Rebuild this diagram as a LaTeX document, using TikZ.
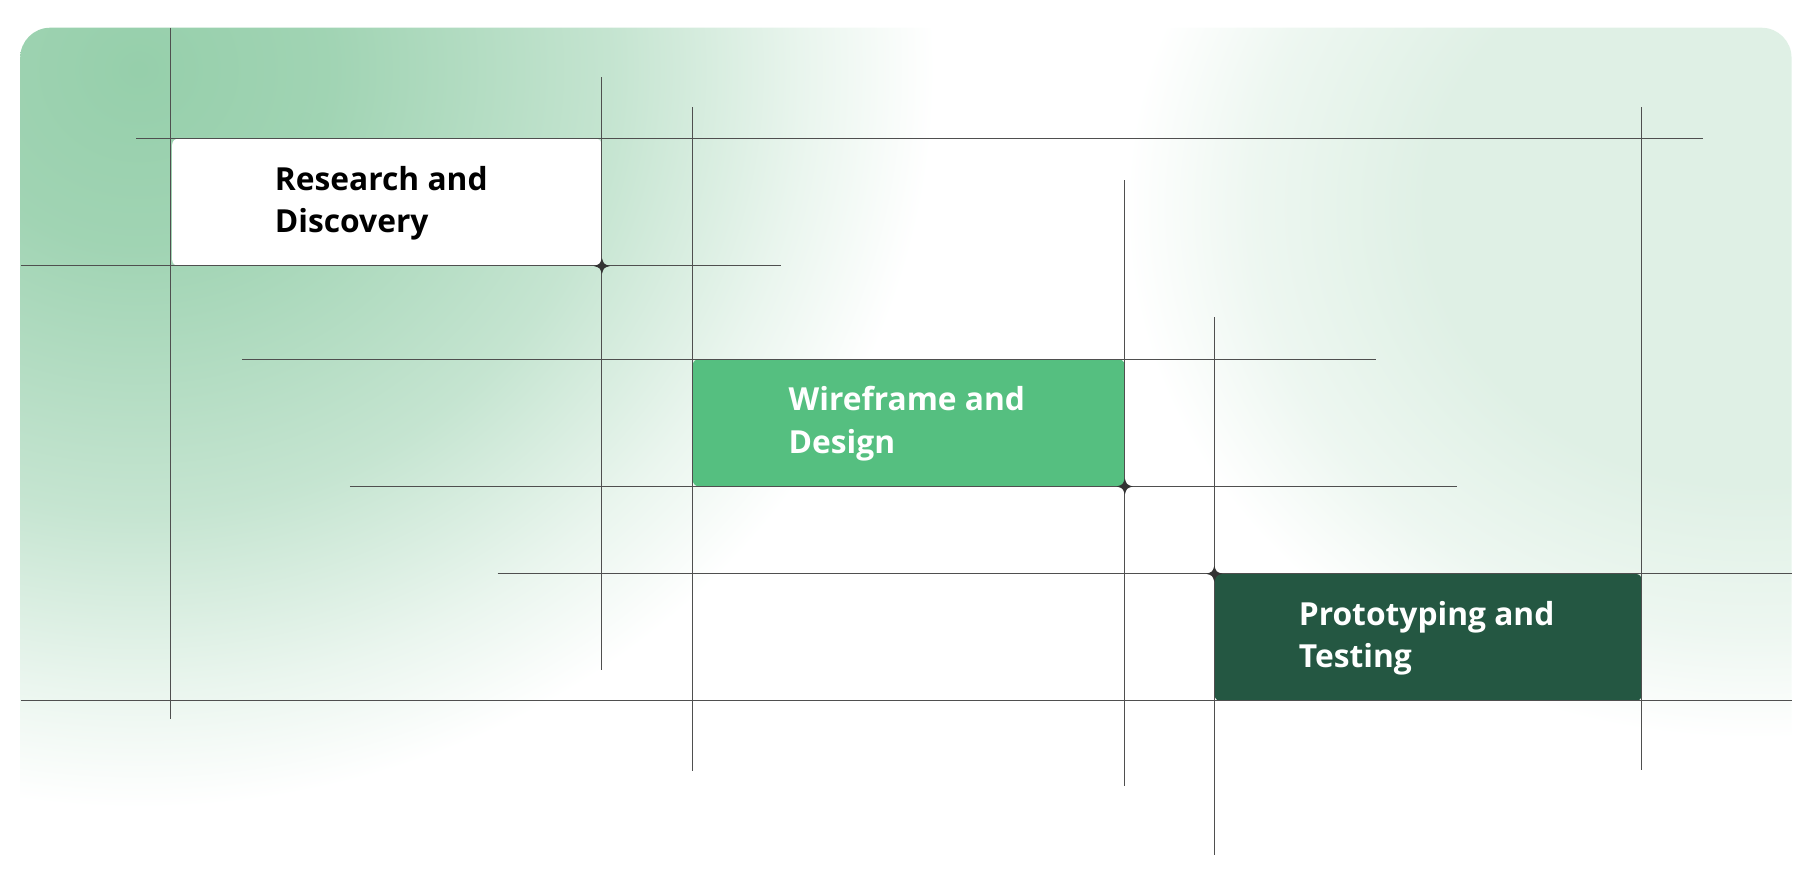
\documentclass[tikz,border=0pt]{standalone}
\usepackage{fontspec}
\newfontfamily\labelfont{Open Sans}
\definecolor{glowA}{HTML}{96CFAB}
\definecolor{glowB}{HTML}{DFF0E5}
\definecolor{midgreen}{HTML}{55BF80}
\definecolor{darkgreen}{HTML}{245742}
\definecolor{gridc}{HTML}{4F4F4F}
\definecolor{starc}{HTML}{333333}
\pgfdeclareradialshading{glowshadeA}{\pgfpointorigin}{color(0bp)=(glowA); color(6bp)=(glowA!90!white); color(15bp)=(glowA!55!white); color(21bp)=(glowA!20!white); color(25bp)=(white); color(50bp)=(white)}
\pgfdeclareradialshading{glowshadeB}{\pgfpointorigin}{color(0bp)=(glowB); color(13bp)=(glowB); color(20bp)=(glowB!55!white); color(25bp)=(white); color(50bp)=(white)}
\tikzset{
  gridline/.style={draw=gridc, line width=0.6pt},
  stagebox/.style={rectangle, rounded corners=5pt, minimum width=372pt, minimum height=110pt, anchor=north west, inner sep=0pt},
  stagetext/.style={anchor=west, align=left, inner sep=0pt, font=\labelfont\bfseries\fontsize{27.5}{37}\selectfont},
  sparkle/.pic={\fill[starc] (0,-7) .. controls (1.6,-1.6) .. (7,0) .. controls (1.6,1.6) .. (0,7) .. controls (-1.6,1.6) .. (-7,0) .. controls (-1.6,-1.6) .. cycle;}
}
\begin{document}
\begin{tikzpicture}[x=1pt,y=-1pt]
\useasboundingbox (0,0) rectangle (1568,761.5);
% background panel with glows
\begin{scope}
  \clip[rounded corners=26pt] (17.5,24) rectangle (1552,745);
  \shade[shading=glowshadeB] (1520,180) ellipse (545 and 460);
  \shade[shading=glowshadeA] (120,60) ellipse (690 and 640);
\end{scope}
% boxes
\node[stagebox, fill=white] (rd) at (149,120) {};
\node[stagebox, fill=midgreen, minimum width=374pt] (wd) at (600,311) {};
\node[stagebox, fill=darkgreen, minimum width=370pt] (pt) at (1052,497) {};
% grid lines
\draw[gridline] (118,120) -- (1475,120);
\draw[gridline] (18,230) -- (677,230);
\draw[gridline] (210,311) -- (1192,311);
\draw[gridline] (303,421) -- (1262,421);
\draw[gridline] (431,497) -- (1552,497);
\draw[gridline] (18,607) -- (1552,607);
\draw[gridline] (148,24) -- (148,623);
\draw[gridline] (521,67) -- (521,580);
\draw[gridline] (600,93) -- (600,668);
\draw[gridline] (974,156) -- (974,681);
\draw[gridline] (1052,275) -- (1052,741);
\draw[gridline] (1422,93) -- (1422,667);
% labels
\node[stagetext, text=black] (rdt) at (238,176) {Research and\\Discovery};
\node[stagetext, text=white] (wdt) at (683,367) {Wireframe and\\Design};
\node[stagetext, text=white] (ptt) at (1125,553) {Prototyping and\\Testing};
% sparkles
\pic at (rd.south east) {sparkle};
\pic at (wd.south east) {sparkle};
\pic at (pt.north west) {sparkle};
\end{tikzpicture}
\end{document}
